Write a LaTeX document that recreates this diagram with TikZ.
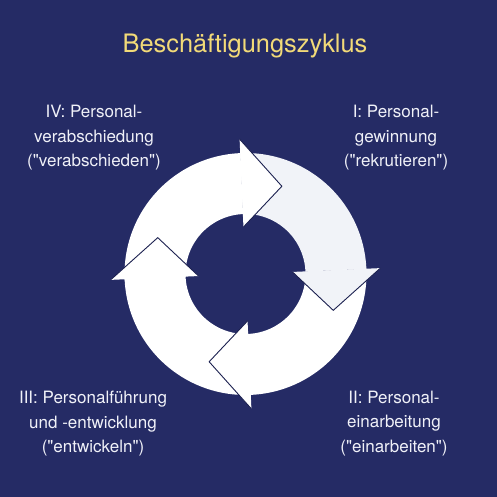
\documentclass[tikz,border=0pt]{standalone}
\usepackage{fontspec}
\setmainfont{TeX Gyre Heros}[Ligatures=TeXOff]
\usetikzlibrary{calc}
\definecolor{bgnavy}{HTML}{252B65}
\definecolor{edgedark}{HTML}{1C2150}
\definecolor{titleyellow}{HTML}{F2DA78}
\definecolor{lightseg}{HTML}{F1F3F8}
\definecolor{labelwhite}{HTML}{F0F1F8}
\tikzset{
  lbl/.style={text=labelwhite, align=center, anchor=base, inner sep=0pt,
    font=\fontsize{17}{24.5}\selectfont},
  ttl/.style={text=titleyellow, anchor=base, inner sep=0pt,
    font=\fontsize{25.4}{30}\selectfont},
  headedge/.style={draw=edgedark, line width=0.9pt, line join=miter}
}
\newcommand{\Rin}{60}
\newcommand{\Rout}{121}
\newcommand{\Hin}{47}
\newcommand{\Hout}{135}
\newcommand{\Htip}{95}
% body: start angle, end angle, colour
\newcommand{\ringbody}[3]{%
  \fill[#3] ($(C)+(#1:\Rout pt)$) arc[start angle=#1, end angle=#2, radius=\Rout pt]
    -- ($(C)+(#2:\Rin pt)$) arc[start angle=#2, end angle=#1, radius=\Rin pt] -- cycle;}
% head: base angle, colour
\newcommand{\ringhead}[2]{%
  \fill[#2] ($(C)+(#1:\Hin pt)$) -- ($(C)+(#1:\Hout pt)$) -- ($(C)+(#1-25:\Htip pt)$) -- cycle;
  \draw[headedge] ($(C)+(#1:\Hout pt)$) -- ($(C)+(#1-25:\Htip pt)$) -- ($(C)+(#1:\Hin pt)$);}
\begin{document}
\begin{tikzpicture}[x=1pt,y=1pt]
\fill[bgnavy] (0,0) rectangle (497,497);
\useasboundingbox (0,0) rectangle (497,497);
\coordinate (C) at (245.5,223);
% bodies
\ringbody{92.6}{2.4}{lightseg}
\ringbody{183}{92.4}{white}
\ringbody{2.5}{-88}{white}
\ringbody{-87}{-178}{white}
% heads
\ringhead{92.5}{white}
\ringhead{2.5}{lightseg}
\ringhead{-87.5}{white}
\ringhead{182.5}{white}
% texts
\node[ttl] (title) at (245,444) {Beschäftigungszyklus};
\node[lbl] (s4) at (94,330) {IV: Personal-\\verabschiedung\\("verabschieden")};
\node[lbl] (s1) at (396,330) {I: Personal-\\gewinnung\\("rekrutieren")};
\node[lbl] (s3) at (93,44) {III: Personalführung\\und -entwicklung\\("entwickeln")};
\node[lbl] (s2) at (394,44.5) {II: Personal-\\einarbeitung\\("einarbeiten")};
\end{tikzpicture}
\end{document}
